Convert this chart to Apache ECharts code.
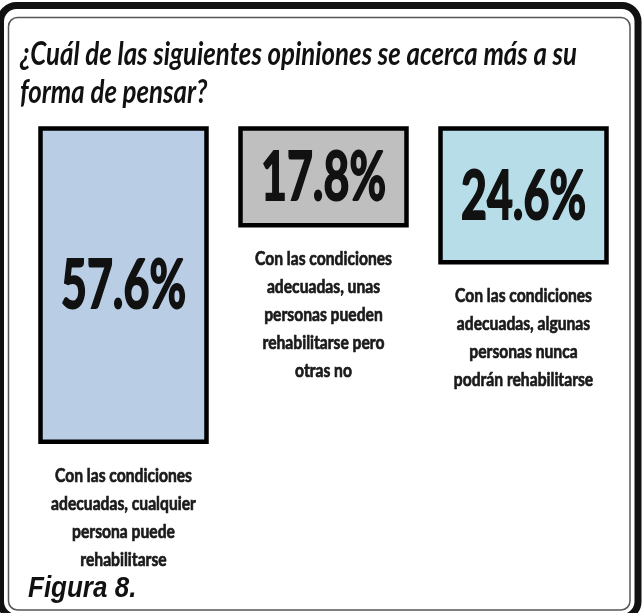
<!DOCTYPE html>
<html>
<head>
<meta charset="utf-8">
<script src="https://cdn.jsdelivr.net/npm/echarts@6/dist/echarts.min.js"></script>
<style>
  html, body { margin: 0; padding: 0; background: #fff; }
  #main { width: 642px; height: 613px; }
</style>
</head>
<body>
<div id="main"></div>
<script>
// respuestas (texto de cada opción, con sus saltos de línea)
var opciones = [
  'Con las condiciones\nadecuadas, cualquier\npersona puede\nrehabilitarse',
  'Con las condiciones\nadecuadas, unas\npersonas pueden\nrehabilitarse pero\notras no',
  'Con las condiciones\nadecuadas, algunas\npersonas nunca\npodrán rehabilitarse'
];
// porcentaje de cada respuesta
var porcentajes = [57.6, 17.8, 24.6];

var pregunta = ['¿Cuál de las siguientes opiniones se acerca más a su', 'forma de pensar?'];
var pie = 'Figura 8.';

var colores = ['#b9cde5', '#bfbfbf', '#b7dee8'];

// the original type is tall and narrow, so squeeze a normal face horizontally
var ctx = document.createElement('canvas').getContext('2d');
function ancho(texto, font) {
  ctx.font = font;
  return ctx.measureText(texto).width;
}
var fTitulo = 'italic bold 33px Lato, sans-serif';
var sTitulo = 557 / ancho(pregunta[0], fTitulo);
var fValor = 'bold 66px Lato, sans-serif';
var sValor = 125 / ancho('57.6%', fValor);
var fTexto = 'bold 19px Lato, sans-serif';
var sTexto = 137 / ancho('Con las condiciones', fTexto);

var myChart = echarts.init(document.getElementById('main'));

function dibujarBarra(params, api) {
  var i = params.dataIndex;
  var arriba = api.coord([api.value(0), 0]);
  var abajo = api.coord([api.value(0), api.value(1)]);
  var w = 166;
  var cx = arriba[0];
  var cy = (arriba[1] + abajo[1]) / 2;
  return {
    type: 'group',
    children: [
      {
        type: 'rect',
        shape: { x: cx - w / 2, y: arriba[1], width: w, height: abajo[1] - arriba[1] },
        style: { fill: colores[i], stroke: '#000', lineWidth: 4.5 }
      },
      {
        type: 'text',
        x: cx, y: cy + 2, scaleX: sValor,
        style: {
          text: api.value(1).toFixed(1) + '%',
          font: fValor, fill: '#111', stroke: '#111', lineWidth: 2,
          align: 'center', textAlign: 'center',
          verticalAlign: 'middle', textVerticalAlign: 'middle'
        }
      },
      {
        type: 'text',
        x: cx, y: abajo[1] + 20, scaleX: sTexto,
        style: {
          text: opciones[i],
          font: fTexto, fill: '#1a1a1a', stroke: '#1a1a1a', lineWidth: 0.7,
          lineHeight: 28,
          align: 'center', textAlign: 'center',
          verticalAlign: 'top', textVerticalAlign: 'top'
        }
      }
    ]
  };
}

var option = {
  backgroundColor: '#fff',
  animation: false,
  grid: { left: 23.5, right: 18.5, top: 128.5, bottom: 49.5 },
  xAxis: { type: 'category', data: opciones, show: false },
  yAxis: { type: 'value', inverse: true, min: 0, max: 80, show: false },
  graphic: [
    {
      type: 'rect', silent: true,
      shape: { x: 0.5, y: 5.5, width: 637.5, height: 612, r: 16 },
      style: { fill: 'none', stroke: '#111', lineWidth: 7 }
    },
    {
      type: 'rect', silent: true,
      shape: { x: 8.5, y: 17.5, width: 621.5, height: 592.5, r: 9 },
      style: { fill: 'none', stroke: '#555', lineWidth: 1.5 }
    },
    {
      type: 'text', silent: true,
      x: 20, y: 54, scaleX: sTitulo,
      style: { text: pregunta[0], font: fTitulo, fill: '#111', textVerticalAlign: 'middle' }
    },
    {
      type: 'text', silent: true,
      x: 20, y: 92, scaleX: sTitulo,
      style: { text: pregunta[1], font: fTitulo, fill: '#111', textVerticalAlign: 'middle' }
    },
    {
      type: 'text', silent: true,
      x: 28, y: 574, scaleY: 1.15,
      style: {
        text: pie,
        font: 'italic bold 26px "Liberation Sans", Arial, sans-serif',
        fill: '#111',
        textVerticalAlign: 'top'
      }
    }
  ],
  series: [
    {
      type: 'custom',
      renderItem: dibujarBarra,
      data: porcentajes.map(function (v, i) { return [i, v]; }),
      silent: true
    }
  ]
};

myChart.setOption(option);
</script>
</body>
</html>
